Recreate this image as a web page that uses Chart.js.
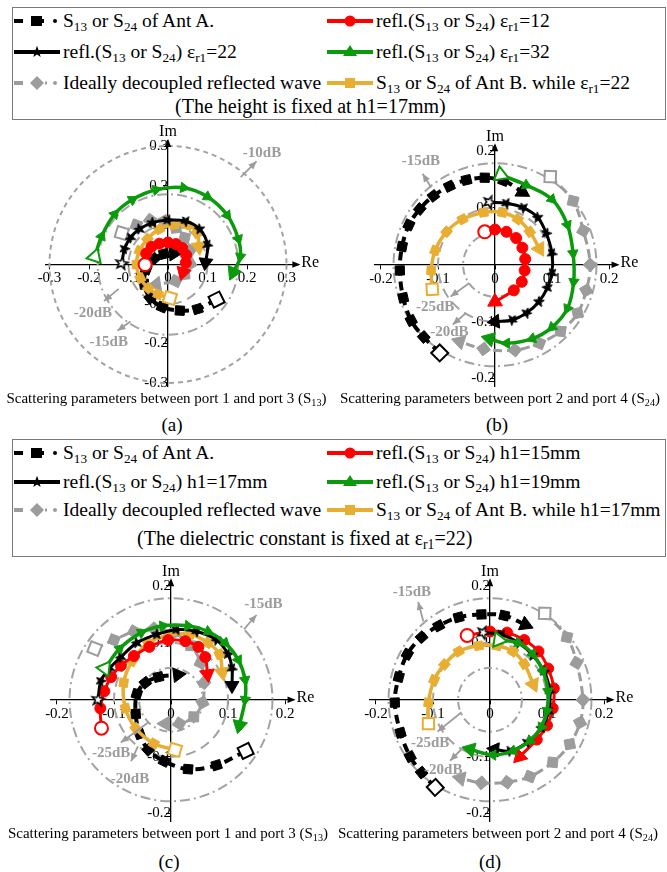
<!DOCTYPE html>
<html><head><meta charset="utf-8">
<script src="https://cdn.jsdelivr.net/npm/chart.js@4.4.1/dist/chart.umd.min.js"></script>
<style>
body{margin:0;width:667px;height:872px;background:#fff;position:relative;overflow:hidden;font-family:"Liberation Serif","Times New Roman",serif;color:#000;}
.box{position:absolute;border:1px solid #7a7a7a;box-sizing:border-box;}
.lg{position:absolute;display:flex;align-items:center;height:24px;font-size:19.5px;white-space:nowrap;}
.lg svg{flex:none;margin-right:2px;}
.cap{position:absolute;font-size:20px;white-space:nowrap;line-height:24px;}
sub{font-size:0.68em;vertical-align:-0.32em;line-height:0;}
.pc{position:absolute;font-size:15px;white-space:nowrap;text-align:center;line-height:18px;}
.pl{position:absolute;font-size:19px;text-align:center;line-height:22px;}
canvas{position:absolute;}
</style></head>
<body>
<div class="box" style="left:12px;top:7px;width:654px;height:113px"></div>
<div class="box" style="left:12px;top:439px;width:654px;height:118px"></div>
<div id="legends"></div>
<canvas id="ca" width="333" height="272" style="left:0;top:125px"></canvas>
<canvas id="cb" width="334" height="272" style="left:333px;top:125px"></canvas>
<canvas id="cc" width="333" height="272" style="left:0;top:560px"></canvas>
<canvas id="cd" width="334" height="272" style="left:333px;top:560px"></canvas>
<div class="pc" style="left:0;top:389px;width:333px">Scattering parameters between port 1 and port 3 (S<sub>13</sub>)</div>
<div class="pc" style="left:333px;top:389px;width:334px">Scattering parameters between port 2 and port 4 (S<sub>24</sub>)</div>
<div class="pl" style="left:152px;top:414px;width:40px">(a)</div>
<div class="pl" style="left:477px;top:414px;width:40px">(b)</div>
<div class="pc" style="left:0;top:824px;width:336px">Scattering parameters between port 1 and port 3 (S<sub>13</sub>)</div>
<div class="pc" style="left:333px;top:824px;width:330px">Scattering parameters between port 2 and port 4 (S<sub>24</sub>)</div>
<div class="pl" style="left:149px;top:851px;width:40px">(c)</div>
<div class="pl" style="left:470px;top:851px;width:40px">(d)</div>
<script>
// ---------- tick values ----------
const TICKS_A = [-0.3, -0.2, -0.1, 0, 0.1, 0.2, 0.3];
const TICKS_BCD = [-0.2, -0.1, 0, 0.1, 0.2];

// ---------- (a) S13, dielectric constant varied ----------
const A_ANT_A  = [[0.123,-0.089],[0.075,-0.113],[0.03,-0.117],[-0.015,-0.108],[-0.045,-0.085],[-0.06,-0.05],[-0.055,-0.012],[-0.035,0.015],[-0.01,0.027],[0.015,0.028]];
const A_REFL12 = [[-0.058,0.0],[-0.055,0.028],[-0.042,0.045],[-0.022,0.053],[0.0,0.056],[0.02,0.052],[0.036,0.042],[0.046,0.024],[0.045,0.004],[0.038,-0.02]];
const A_REFL22 = [[-0.117,0.003],[-0.11,0.04],[-0.095,0.068],[-0.072,0.09],[-0.04,0.106],[0.0,0.113],[0.045,0.11],[0.08,0.09],[0.1,0.05],[0.095,0.005]];
const A_REFL32 = [[-0.185,0.02],[-0.168,0.072],[-0.135,0.128],[-0.09,0.165],[-0.03,0.19],[0.04,0.195],[0.1,0.172],[0.15,0.125],[0.178,0.065],[0.183,0.02],[0.165,-0.02]];
const A_ANT_B  = [[0.005,-0.085],[-0.025,-0.076],[-0.05,-0.06],[-0.07,-0.035],[-0.08,0.0],[-0.072,0.035],[-0.052,0.065],[-0.022,0.09],[0.015,0.101],[0.05,0.1],[0.074,0.08],[0.078,0.045]];
const A_IDEAL  = [[-0.117,0.08],[-0.08,0.1],[-0.045,0.113],[-0.01,0.11],[0.02,0.093],[0.042,0.068],[0.056,0.036],[0.056,0.002],[0.042,-0.025],[0.02,-0.042],[-0.03,-0.05]];

// ---------- (b) S24, dielectric constant varied ----------
const B_ANT_A  = [[-0.097,-0.155],[-0.125,-0.127],[-0.147,-0.098],[-0.161,-0.058],[-0.167,-0.01],[-0.163,0.032],[-0.151,0.07],[-0.132,0.098],[-0.108,0.121],[-0.08,0.138],[-0.05,0.149],[-0.018,0.153],[0.015,0.148],[0.048,0.128]];
const B_REFL12 = [[-0.018,0.058],[0.0,0.062],[0.02,0.058],[0.037,0.047],[0.048,0.03],[0.053,0.01],[0.052,-0.01],[0.047,-0.03],[0.033,-0.045],[0.0,-0.065]];
const B_REFL22 = [[-0.01,0.11],[0.02,0.108],[0.05,0.1],[0.075,0.083],[0.09,0.055],[0.1,0.02],[0.1,-0.015],[0.092,-0.04],[0.077,-0.065],[0.055,-0.085],[0.03,-0.097],[0.0,-0.1]];
const B_REFL32 = [[0.01,0.158],[0.055,0.14],[0.1,0.115],[0.127,0.07],[0.137,0.02],[0.138,-0.03],[0.127,-0.077],[0.1,-0.11],[0.065,-0.13],[0.02,-0.138],[-0.01,-0.13]];
const B_ANT_B  = [[-0.11,-0.043],[-0.112,-0.01],[-0.105,0.025],[-0.085,0.058],[-0.057,0.08],[-0.02,0.092],[0.013,0.092],[0.04,0.08],[0.061,0.058],[0.078,0.028]];
const B_IDEAL  = [[0.097,0.155],[0.137,0.112],[0.155,0.06],[0.167,0.0],[0.16,-0.045],[0.145,-0.085],[0.115,-0.117],[0.078,-0.138],[0.035,-0.15],[-0.02,-0.148],[-0.062,-0.135]];

// ---------- (c) S13, height varied ----------
const C_ANT_A  = [[0.131,-0.09],[0.08,-0.115],[0.03,-0.122],[-0.012,-0.108],[-0.04,-0.088],[-0.055,-0.06],[-0.062,-0.025],[-0.06,0.01],[-0.045,0.03],[-0.022,0.04],[0.012,0.044]];
const C_REFL15 = [[-0.122,-0.05],[-0.124,-0.015],[-0.117,0.015],[-0.105,0.04],[-0.088,0.06],[-0.065,0.077],[-0.038,0.093],[-0.005,0.105],[0.025,0.103],[0.048,0.093],[0.06,0.075],[0.064,0.045]];
const C_REFL17 = [[-0.128,0.0],[-0.123,0.033],[-0.108,0.055],[-0.088,0.075],[-0.06,0.1],[-0.025,0.115],[0.01,0.123],[0.045,0.12],[0.08,0.105],[0.1,0.08],[0.107,0.055],[0.107,0.025]];
const C_REFL19 = [[-0.116,0.055],[-0.09,0.09],[-0.052,0.118],[-0.014,0.13],[0.03,0.13],[0.065,0.12],[0.095,0.1],[0.118,0.07],[0.13,0.035],[0.13,0.0],[0.12,-0.045]];
const C_ANT_B  = [[0.007,-0.088],[-0.03,-0.077],[-0.062,-0.05],[-0.08,-0.015],[-0.083,0.03],[-0.068,0.068],[-0.04,0.1],[-0.005,0.113],[0.033,0.115],[0.065,0.1],[0.085,0.08],[0.09,0.048]];
const C_IDEAL  = [[-0.134,0.09],[-0.1,0.105],[-0.065,0.12],[-0.03,0.125],[0.005,0.118],[0.035,0.095],[0.052,0.065],[0.058,0.03],[0.055,-0.005],[0.04,-0.03],[0.015,-0.042],[-0.01,-0.042]];

// ---------- (d) S24, height varied ----------
const D_ANT_A  = [[-0.096,-0.154],[-0.12,-0.128],[-0.14,-0.1],[-0.157,-0.058],[-0.167,-0.005],[-0.16,0.04],[-0.145,0.08],[-0.12,0.11],[-0.09,0.13],[-0.055,0.145],[-0.015,0.15],[0.025,0.148],[0.062,0.132]];
const D_REFL15 = [[-0.04,0.113],[0.0,0.12],[0.03,0.118],[0.06,0.105],[0.085,0.085],[0.102,0.055],[0.112,0.02],[0.11,-0.015],[0.1,-0.045],[0.082,-0.07],[0.052,-0.1]];
const D_REFL17 = [[-0.012,0.118],[0.02,0.115],[0.05,0.1],[0.075,0.078],[0.095,0.05],[0.105,0.015],[0.103,-0.02],[0.09,-0.05],[0.065,-0.075],[0.035,-0.09],[0.008,-0.087]];
const D_REFL19 = [[0.015,0.105],[0.05,0.1],[0.075,0.08],[0.093,0.05],[0.102,0.015],[0.1,-0.02],[0.09,-0.048],[0.07,-0.072],[0.04,-0.09],[0.005,-0.097],[-0.035,-0.087]];
const D_ANT_B  = [[-0.108,-0.042],[-0.108,-0.005],[-0.098,0.035],[-0.08,0.062],[-0.055,0.085],[-0.02,0.095],[0.012,0.095],[0.04,0.085],[0.06,0.063],[0.076,0.027]];
const D_IDEAL  = [[0.096,0.152],[0.135,0.11],[0.152,0.065],[0.163,0.0],[0.158,-0.04],[0.14,-0.078],[0.11,-0.11],[0.07,-0.135],[0.03,-0.145],[-0.015,-0.146],[-0.052,-0.138]];

// ---------- constant-magnitude reference circles (|S| for the dB levels) ----------
const RINGS_A = [{r:0.3, lab:'-10dB'}, {r:0.178, lab:'-15dB'}, {r:0.1, lab:'-20dB'}];
const RINGS_BCD = [{r:0.178, lab:'-15dB'}, {r:0.1, lab:'-20dB'}, {r:0.056, lab:'-25dB'}];

// ---------- styles ----------
Chart.defaults.font.family = '"Liberation Serif","Times New Roman",serif';
const GREEN = '#0b9a0b', RED = '#ff0000', GOLD = '#e8ae33', GRAY = '#9c9c9c', RING = '#a3a3a3';

function starCanvas(size, fill, stroke, lw) {
  const c = document.createElement('canvas'); c.width = c.height = size;
  const g = c.getContext('2d'); const R = size / 2 - lw, r = R * 0.42;
  g.beginPath();
  for (let k = 0; k < 10; k++) { const a = -Math.PI / 2 + k * Math.PI / 5, rr = k % 2 ? r : R; g.lineTo(size / 2 + rr * Math.cos(a), size / 2 + rr * Math.sin(a)); }
  g.closePath(); g.fillStyle = fill; g.fill(); g.lineWidth = lw; g.strokeStyle = stroke; g.stroke();
  return c;
}
const STAR = starCanvas(13, '#000', '#000', 1);
const STAR_HOLLOW = starCanvas(16, '#fff', '#000', 1.6);

const STYLE = {
  antA:  {color:'#000', width:4,   dash:[9,6], marker:'rect',     r:6.5, startR:8.5, arrowR:8.5, order:5},
  refl1: {color:RED,    width:3,   dash:[],    marker:'circle',   r:5.5, startR:6.5, arrowR:8.5, order:3},
  refl2: {color:'#000', width:3,   dash:[],    marker:STAR,       r:6,   startR:6,   arrowR:8,   order:2, start:STAR_HOLLOW},
  refl3: {color:GREEN,  width:3.5, dash:[],    marker:'triangle', r:6,   startR:8.5, arrowR:8.5, order:1},
  antB:  {color:GOLD,   width:3.5, dash:[],    marker:'rect',     r:6,   startR:8,   arrowR:8.5, order:4},
  ideal: {color:GRAY,   width:3,   dash:[9,5], marker:'rectRot',  r:7,   startR:8,   arrowR:8.5, order:6}
};

function makeDataset(key, pts) {
  const st = STYLE[key];
  const data = pts.map(([x, y]) => ({x, y}));
  const n = data.length;
  const rot = i => { const a = data[Math.max(0, i - 1)], b = data[Math.min(n - 1, i + 1)]; return Math.atan2(b.x - a.x, b.y - a.y) * 180 / Math.PI; };
  return {
    label: key, data, showLine: true, fill: false, tension: 0.35, order: st.order,
    borderColor: st.color, borderWidth: st.width, borderDash: st.dash, borderCapStyle: 'butt',
    pointStyle: c => c.dataIndex === n - 1 ? 'triangle' : (c.dataIndex === 0 ? (st.start || st.marker) : st.marker),
    pointRadius: c => c.dataIndex === n - 1 ? st.arrowR : (c.dataIndex === 0 ? st.startR : st.r),
    pointBackgroundColor: c => c.dataIndex === 0 ? '#fff' : st.color,
    pointBorderColor: st.color,
    pointBorderWidth: c => c.dataIndex === 0 ? 2 : 1,
    pointRotation: c => rot(c.dataIndex)
  };
}

const PANELS = [
  {id:'ca', ox:168, oy:140, s:395, xr:[-0.31,0.33], yr:[-0.31,0.314], ticks:TICKS_A, rings:RINGS_A,
   ringDash:[[5,4],[10,4,2,4],[10,6]],
   series:{antA:A_ANT_A, refl1:A_REFL12, refl2:A_REFL22, refl3:A_REFL32, antB:A_ANT_B, ideal:A_IDEAL},
   notes:[{t:'-10dB', at:[0.238,0.284], from:[0.184,0.222], to:[0.224,0.262]},
          {t:'-20dB', at:[-0.19,-0.123], from:[-0.125,-0.062], to:[-0.162,-0.093]},
          {t:'-15dB', at:[-0.15,-0.198], from:[-0.095,-0.145], to:[-0.128,-0.168]}]},
  {id:'cb', ox:162, oy:140, s:570, xr:[-0.212,0.215], yr:[-0.214,0.21], ticks:TICKS_BCD, rings:RINGS_BCD,
   ringDash:[[10,4,2,4],[10,6],[8,4,2,4]],
   series:{antA:B_ANT_A, refl1:B_REFL12, refl2:B_REFL22, refl3:B_REFL32, antB:B_ANT_B, ideal:B_IDEAL},
   notes:[{t:'-15dB', at:[-0.13,0.183], from:[-0.112,0.136], to:[-0.127,0.16]},
          {t:'-25dB', at:[-0.105,-0.074], from:[-0.045,-0.032], to:[-0.078,-0.056]},
          {t:'-20dB', at:[-0.08,-0.118], from:[-0.052,-0.086], to:[-0.074,-0.105]}]},
  {id:'cc', ox:171, oy:140, s:570, xr:[-0.212,0.215], yr:[-0.214,0.21], ticks:TICKS_BCD, rings:RINGS_BCD,
   ringDash:[[10,4,2,4],[10,6],[8,4,2,4]],
   series:{antA:C_ANT_A, refl1:C_REFL15, refl2:C_REFL17, refl3:C_REFL19, antB:C_ANT_B, ideal:C_IDEAL},
   notes:[{t:'-15dB', at:[0.162,0.168], from:[0.128,0.124], to:[0.15,0.149]},
          {t:'-25dB', at:[-0.105,-0.094], from:[-0.04,-0.04], to:[-0.088,-0.075]},
          {t:'-20dB', at:[-0.072,-0.14], from:[-0.058,-0.082], to:[-0.07,-0.108]}]},
  {id:'cd', ox:157, oy:140, s:570, xr:[-0.212,0.215], yr:[-0.214,0.21], ticks:TICKS_BCD, rings:RINGS_BCD,
   ringDash:[[10,4,2,4],[10,6],[8,4,2,4]],
   series:{antA:D_ANT_A, refl1:D_REFL15, refl2:D_REFL17, refl3:D_REFL19, antB:D_ANT_B, ideal:D_IDEAL},
   notes:[{t:'-15dB', at:[-0.137,0.19], from:[-0.117,0.138], to:[-0.126,0.172]},
          {t:'-25dB', at:[-0.105,-0.077], from:[-0.05,-0.022], to:[-0.092,-0.056]},
          {t:'-20dB', at:[-0.082,-0.123], from:[-0.05,-0.087], to:[-0.07,-0.107]}]}
];

function arrowHead(ctx, x1, y1, x2, y2, len, half) {
  const a = Math.atan2(y2 - y1, x2 - x1);
  ctx.beginPath();
  ctx.moveTo(x2, y2);
  ctx.lineTo(x2 - len * Math.cos(a) + half * Math.sin(a), y2 - len * Math.sin(a) - half * Math.cos(a));
  ctx.lineTo(x2 - len * Math.cos(a) - half * Math.sin(a), y2 - len * Math.sin(a) + half * Math.cos(a));
  ctx.closePath(); ctx.fill();
}

function overlay(p) {
  return {
    id: 'overlay_' + p.id,
    beforeDatasetsDraw(chart) {
      const {ctx} = chart, X = chart.scales.x, Y = chart.scales.y;
      const cx = X.getPixelForValue(0), cy = Y.getPixelForValue(0);
      ctx.save();
      p.rings.forEach((rg, k) => {
        const rp = X.getPixelForValue(rg.r) - cx;
        ctx.beginPath(); ctx.setLineDash(p.ringDash[k]); ctx.lineWidth = 2; ctx.strokeStyle = RING;
        ctx.arc(cx, cy, rp, 0, Math.PI * 2); ctx.stroke();
      });
      ctx.restore();
    },
    afterDraw(chart) {
      const {ctx} = chart, X = chart.scales.x, Y = chart.scales.y;
      const cx = X.getPixelForValue(0), cy = Y.getPixelForValue(0);
      const right = X.getPixelForValue(p.xr[1]), top = Y.getPixelForValue(p.yr[1]);
      ctx.save();
      ctx.fillStyle = '#000';
      arrowHead(ctx, right - 10, cy, right + 2, cy, 8, 3.2);
      arrowHead(ctx, cx, top + 10, cx, top - 2, 8, 3.2);
      ctx.font = '16px "Liberation Serif"';
      ctx.textBaseline = 'middle'; ctx.textAlign = 'left';
      ctx.fillText('Re', right + 3, cy - 2);
      ctx.textBaseline = 'bottom'; ctx.textAlign = 'center';
      ctx.fillText('Im', cx, top - 1);
      // dB annotations
      ctx.strokeStyle = GRAY; ctx.fillStyle = GRAY; ctx.lineWidth = 1.8;
      p.notes.forEach(nt => {
        const x1 = X.getPixelForValue(nt.from[0]), y1 = Y.getPixelForValue(nt.from[1]);
        const x2 = X.getPixelForValue(nt.to[0]), y2 = Y.getPixelForValue(nt.to[1]);
        ctx.beginPath(); ctx.moveTo(x1, y1); ctx.lineTo(x2, y2); ctx.stroke();
        arrowHead(ctx, x1, y1, x2, y2, 8, 3.5);
        ctx.font = 'bold 15px "Liberation Serif"'; ctx.textAlign = 'center'; ctx.textBaseline = 'middle';
        ctx.fillText(nt.t, X.getPixelForValue(nt.at[0]), Y.getPixelForValue(nt.at[1]));
      });
      ctx.restore();
    }
  };
}

const fmt = v => Math.abs(v) < 1e-9 ? '0' : v.toFixed(1);

PANELS.forEach(p => {
  const cv = document.getElementById(p.id);
  const W = cv.width, H = cv.height;
  const padding = {
    left: p.ox + p.xr[0] * p.s,
    right: W - (p.ox + p.xr[1] * p.s),
    top: p.oy - p.yr[1] * p.s,
    bottom: H - (p.oy - p.yr[0] * p.s)
  };
  const axisCommon = {
    type: 'linear',
    grid: {drawOnChartArea: false, drawTicks: true, tickLength: 4, color: '#000', lineWidth: 1},
    border: {display: true, color: '#000', width: 1.3},
    ticks: {color: '#000', font: {size: 15}, padding: 1, autoSkip: false, maxRotation: 0}
  };
  new Chart(cv, {
    type: 'scatter',
    data: {datasets: Object.entries(p.series).map(([k, pts]) => makeDataset(k, pts))},
    options: {
      responsive: false, animation: false, events: [],
      layout: {padding},
      plugins: {legend: {display: false}, tooltip: {enabled: false}},
      scales: {
        x: Object.assign({}, axisCommon, {position: {y: 0}, min: p.xr[0], max: p.xr[1],
          afterBuildTicks: ax => { ax.ticks = p.ticks.map(v => ({value: v})); },
          ticks: Object.assign({}, axisCommon.ticks, {callback: v => fmt(v)})}),
        y: Object.assign({}, axisCommon, {position: {x: 0}, min: p.yr[0], max: p.yr[1],
          afterBuildTicks: ax => { ax.ticks = p.ticks.map(v => ({value: v})); },
          ticks: Object.assign({}, axisCommon.ticks, {callback: v => Math.abs(v) < 1e-9 ? '' : fmt(v)})})
      }
    },
    plugins: [overlay(p)]
  });
});

// ---------- legends ----------
function sampleSvg(kind) {
  const L = (c, w, dash) => `<line x1="1" y1="11" x2="47" y2="11" stroke="${c}" stroke-width="${w}" ${dash ? `stroke-dasharray="${dash}"` : ''}/>`;
  const starPts = () => { let s = ''; for (let k = 0; k < 10; k++) { const a = -Math.PI / 2 + k * Math.PI / 5, rr = k % 2 ? 2.6 : 6.2; s += `${(24 + rr * Math.cos(a)).toFixed(2)},${(11 + rr * Math.sin(a)).toFixed(2)} `; } return s; };
  let body = '';
  if (kind === 'antA') body = `<line x1="1" y1="11" x2="10" y2="11" stroke="#000" stroke-width="4"/><rect x="18" y="6" width="11" height="10" fill="#000"/><line x1="29" y1="11" x2="31" y2="11" stroke="#000" stroke-width="4"/><circle cx="42" cy="11" r="2" fill="#000"/>`;
  if (kind === 'refl1') body = L(RED, 4) + `<circle cx="24" cy="11" r="5.5" fill="${RED}"/>`;
  if (kind === 'refl2') body = L('#000', 4) + `<polygon points="${starPts()}" fill="#000"/>`;
  if (kind === 'refl3') body = L(GREEN, 4) + `<polygon points="24,4 31,15 17,15" fill="${GREEN}"/>`;
  if (kind === 'ideal') body = `<line x1="1" y1="11" x2="10" y2="11" stroke="${GRAY}" stroke-width="4"/><polygon points="24,4 31,11 24,18 17,11" fill="${GRAY}"/><line x1="32" y1="11" x2="34" y2="11" stroke="${GRAY}" stroke-width="3"/><circle cx="42" cy="11" r="2" fill="${GRAY}"/>`;
  if (kind === 'antB') body = L(GOLD, 4) + `<rect x="19" y="6" width="10" height="10" fill="${GOLD}"/>`;
  return `<svg width="48" height="22" viewBox="0 0 48 22">${body}</svg>`;
}
const LEGEND_TOP = [
  ['antA',  13, 9,  'S<sub>13</sub> or S<sub>24</sub> of Ant A.'],
  ['refl1', 326, 9, 'refl.(S<sub>13</sub> or S<sub>24</sub>) ε<sub>r1</sub>=12'],
  ['refl2', 13, 40, 'refl.(S<sub>13</sub> or S<sub>24</sub>) ε<sub>r1</sub>=22'],
  ['refl3', 326, 40, 'refl.(S<sub>13</sub> or S<sub>24</sub>) ε<sub>r1</sub>=32'],
  ['ideal', 13, 71, 'Ideally decoupled reflected wave'],
  ['antB',  326, 71, 'S<sub>13</sub> or S<sub>24</sub> of Ant B. while ε<sub>r1</sub>=22']
];
const LEGEND_MID = [
  ['antA',  13, 441, 'S<sub>13</sub> or S<sub>24</sub> of Ant A.'],
  ['refl1', 326, 441, 'refl.(S<sub>13</sub> or S<sub>24</sub>) h1=15mm'],
  ['refl2', 13, 470, 'refl.(S<sub>13</sub> or S<sub>24</sub>) h1=17mm'],
  ['refl3', 326, 470, 'refl.(S<sub>13</sub> or S<sub>24</sub>) h1=19mm'],
  ['ideal', 13, 498, 'Ideally decoupled reflected wave'],
  ['antB',  326, 498, 'S<sub>13</sub> or S<sub>24</sub> of Ant B. while h1=17mm']
];
let html = '';
[...LEGEND_TOP, ...LEGEND_MID].forEach(([k, x, y, txt]) => {
  html += `<div class="lg" style="left:${x}px;top:${y}px">${sampleSvg(k)}<span>${txt}</span></div>`;
});
html += `<div class="cap" style="left:175px;top:94px">(The height is fixed at h1=17mm)</div>`;
html += `<div class="cap" style="left:137px;top:526px">(The dielectric constant is fixed at ε<sub>r1</sub>=22)</div>`;
document.getElementById('legends').innerHTML = html;
</script>
</body></html>
